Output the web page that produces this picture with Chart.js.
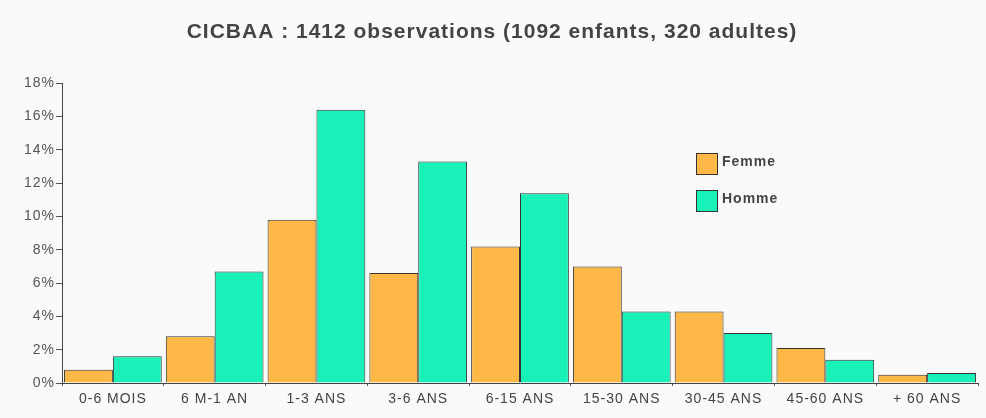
<!DOCTYPE html>
<html>
<head>
<meta charset="utf-8">
<script src="https://cdn.jsdelivr.net/npm/chart.js@4/dist/chart.umd.min.js"></script>
<style>
    body { margin: 0; background: #fafafa; }
    #wrap { width: 986px; height: 418px; }
</style>
</head>
<body>
<div id="wrap"><canvas id="age-bar" width="986" height="418"></canvas></div>
<script>
// age groups
var AGES = ['0-6 MOIS', '6 M-1 AN', '1-3 ANS', '3-6 ANS', '6-15 ANS', '15-30 ANS', '30-45 ANS', '45-60 ANS', '+ 60 ANS'];

// percentages
var FEMME = [0.8, 2.8, 9.8, 6.6, 8.2, 7.0, 4.3, 2.1, 0.5];
var HOMME = [1.6, 6.7, 16.4, 13.3, 11.4, 4.3, 3.0, 1.4, 0.6];

var Y_TICKS = [0, 2, 4, 6, 8, 10, 12, 14, 16, 18];

// the original text is a bit spread out
const spacing = {
    id: 'spacing',
    beforeDraw(chart) {
        chart.ctx.letterSpacing = '1px';
    }
};

// legend drawn inside the plot, like the original
const boxLegend = {
    id: 'boxLegend',
    afterDraw(chart) {
        const c = chart.ctx;
        c.save();
        chart.data.datasets.forEach(function(ds, i) {
            let y = 153 + i * 37;
            c.fillStyle = ds.backgroundColor;
            c.fillRect(696, y, 22, 22);
            c.strokeStyle = '#333';
            c.lineWidth = 1;
            c.strokeRect(696.5, y + 0.5, 21, 21);
            c.fillStyle = '#444';
            c.font = 'bold 14px "Liberation Sans", Arial, sans-serif';
            c.textBaseline = 'middle';
            c.fillText(ds.label, 722, y + 9);
        });
        c.restore();
    }
};

const ctx = document.getElementById('age-bar');

new Chart(ctx, {
    type: 'bar',
    data: {
        labels: AGES,
        datasets: [{
            label: 'Femme',
            data: FEMME,
            backgroundColor: '#fdb848',
            borderColor: '#333',
            borderWidth: 1,
            borderSkipped: 'bottom'
        },
        {
            label: 'Homme',
            data: HOMME,
            backgroundColor: '#18f2b8',
            borderColor: '#333',
            borderWidth: 1,
            borderSkipped: 'bottom'
        }]
    },
    options: {
        responsive: false,
        animation: false,
        layout: {
            padding: { left: 6, right: 8, bottom: 4 }
        },
        datasets: {
            bar: {
                categoryPercentage: 0.96,
                barPercentage: 1.0
            }
        },
        scales: {
            x: {
                afterFit: function(axis) {
                    axis.height = 31;
                },
                grid: { drawOnChartArea: false, tickLength: 3, color: '#555' },
                border: { color: '#444', width: 1 },
                ticks: {
                    color: '#444',
                    padding: 5,
                    maxRotation: 0,
                    font: { family: '"Liberation Sans", Arial, sans-serif', size: 14 }
                }
            },
            y: {
                min: 0,
                max: 18,
                afterBuildTicks: function(axis) {
                    axis.ticks = Y_TICKS.map(v => ({ value: v }));
                },
                afterFit: function(axis) {
                    axis.width = 56;
                },
                grid: { drawOnChartArea: false, tickLength: 6, color: '#555' },
                border: { color: '#444', width: 1 },
                ticks: {
                    color: '#555',
                    padding: 1,
                    font: { family: '"Liberation Sans", Arial, sans-serif', size: 14 },
                    callback: function(v) { return v + '%'; }
                }
            }
        },
        plugins: {
            legend: { display: false },
            tooltip: { enabled: false },
            title: {
                display: true,
                text: 'CICBAA : 1412 observations (1092 enfants, 320 adultes)',
                color: '#444',
                font: { family: '"Liberation Sans", Arial, sans-serif', size: 21, weight: 'bold' },
                padding: { top: 20, bottom: 38 }
            }
        }
    },
    plugins: [spacing, boxLegend]
});
</script>
</body>
</html>
